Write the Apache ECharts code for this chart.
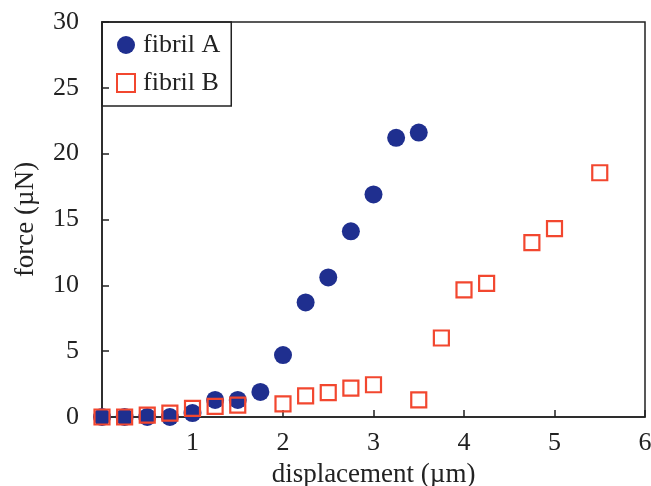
<!DOCTYPE html>
<html>
<head>
<meta charset="utf-8">
<script src="https://cdn.jsdelivr.net/npm/echarts@6/dist/echarts.min.js"></script>
<style>html,body{margin:0;padding:0;background:#fff}#c{width:651px;height:486px}</style>
</head>
<body>
<div id="c"></div>
<script>
const displacementA = [0, 0.25, 0.5, 0.75, 1.0, 1.25, 1.5, 1.75, 2.0, 2.25, 2.5, 2.75, 3.0, 3.25, 3.5];
const forceA = [0, 0, 0, 0, 0.3, 1.3, 1.3, 1.9, 4.7, 8.7, 10.6, 14.1, 16.9, 21.2, 21.6];
const displacementB = [0, 0.25, 0.5, 0.75, 1.0, 1.25, 1.5, 2.0, 2.25, 2.5, 2.75, 3.0, 3.5, 3.75, 4.0, 4.25, 4.75, 5.0, 5.5];
const forceB = [0, 0, 0.15, 0.3, 0.65, 0.8, 0.9, 1.0, 1.6, 1.85, 2.2, 2.45, 1.3, 6.0, 9.65, 10.15, 13.25, 14.3, 18.55];
const xTicks = [1, 2, 3, 4, 5, 6];
const yTicks = [0, 5, 10, 15, 20, 25, 30];

const font = '"Liberation Serif", "DejaVu Serif", serif';
const chart = echarts.init(document.getElementById('c'));
chart.setOption({
  animation: false,
  grid: { left: 102, top: 22, right: 6, bottom: 69, outerBoundsMode: 'none', containLabel: false,
    show: true, borderColor: '#222', borderWidth: 1.5, backgroundColor: 'transparent' },
  legend: {
    orient: 'vertical', left: 102, top: 22,
    borderColor: '#222', borderWidth: 1.5, padding: [10, 11, 10, 14],
    itemWidth: 18, itemHeight: 18, itemGap: 12,
    textStyle: { fontFamily: font, fontSize: 26, color: '#222', padding: [0, 0, 0, 3] },
    data: ['fibril A', 'fibril B']
  },
  xAxis: {
    type: 'value', min: 0, max: 6, interval: 1,
    name: 'displacement (\u00b5m)', nameLocation: 'middle', nameGap: 44,
    nameTextStyle: { fontFamily: font, fontSize: 27, color: '#222' },
    axisLine: { lineStyle: { color: '#222', width: 1.5 } },
    axisTick: { inside: true, length: 7, lineStyle: { color: '#222', width: 1.5 } },
    axisLabel: { fontFamily: font, fontSize: 26, color: '#222', margin: 13,
      formatter: v => (xTicks.indexOf(v) >= 0 ? String(v) : '') },
    splitLine: { show: false }
  },
  yAxis: {
    type: 'value', min: 0, max: 30, interval: 5,
    name: 'force (\u00b5N)', nameLocation: 'middle', nameGap: 63,
    nameTextStyle: { fontFamily: font, fontSize: 27, color: '#222' },
    axisLine: { show: true, lineStyle: { color: '#222', width: 1.5 } },
    axisTick: { show: true, inside: true, length: 7, lineStyle: { color: '#222', width: 1.5 } },
    axisLabel: { fontFamily: font, fontSize: 26, color: '#222', margin: 23,
      formatter: v => (yTicks.indexOf(v) >= 0 ? String(v) : '') },
    splitLine: { show: false }
  },
  series: [
    {
      name: 'fibril A', type: 'scatter', symbol: 'circle', symbolSize: 18,
      itemStyle: { color: '#1f2f8f', opacity: 1 },
      data: displacementA.map((x, i) => [x, forceA[i]])
    },
    {
      name: 'fibril B', type: 'scatter', symbol: 'rect', symbolSize: 15,
      itemStyle: { color: 'rgba(255,255,255,0)', borderColor: '#f2472f', borderWidth: 2.2, opacity: 1 },
      data: displacementB.map((x, i) => [x, forceB[i]])
    }
  ]
});
</script>
</body>
</html>
